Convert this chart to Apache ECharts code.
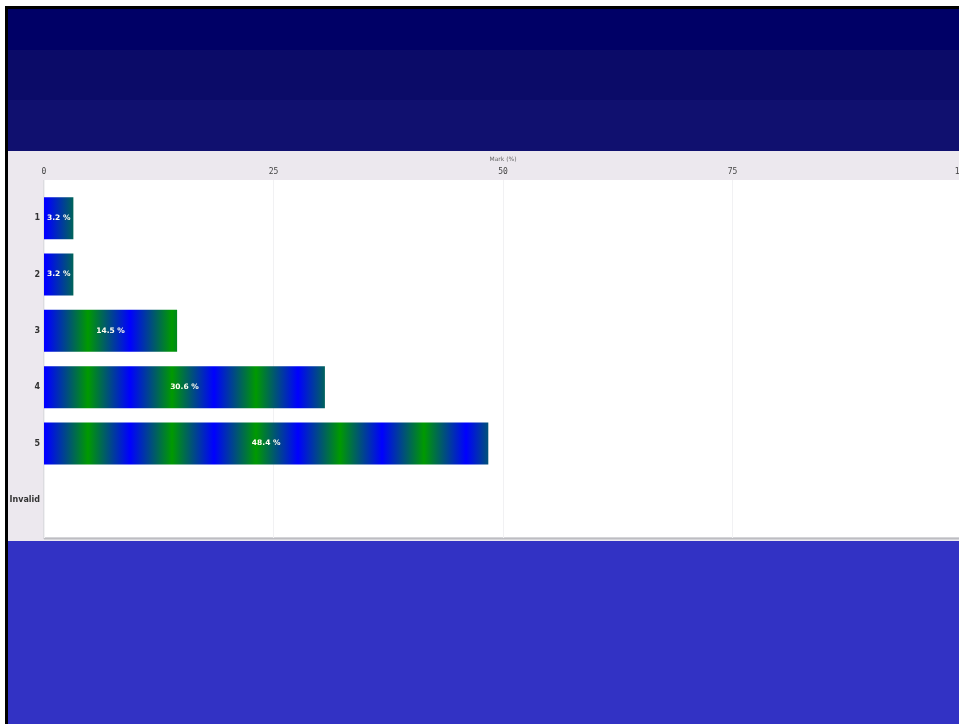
<!DOCTYPE html>
<html>
<head>
<meta charset="utf-8">
<script src="https://cdn.jsdelivr.net/npm/echarts@6/dist/echarts.min.js"></script>
<style>
html,body{margin:0;padding:0;background:#fff;}
#chart{width:959px;height:724px;}
</style>
</head>
<body>
<div id="chart"></div>
<script>
var categories = ['1', '2', '3', '4', '5', 'Invalid'];
var markValues = [3.2, 3.2, 14.5, 30.6, 48.4, 0];
var tickValues = [0, 25, 50, 75, 100];
var axisTitle = 'Mark (%)';

var chart = echarts.init(document.getElementById('chart'));

var PL = 44, PW = 918;
// striped blue/green gradient in page coordinates
var stops = [];
var period = 84, x = 46 - PL;
stops.push({offset: 0, color: '#0000ff'});
for (var k = 0; k < 12; k++) {
  var b = (x + k * period) / PW, g = (x + k * period + period / 2) / PW;
  if (b > 0 && b <= 1) stops.push({offset: b, color: '#0000ff'});
  if (g > 0 && g <= 1) stops.push({offset: g, color: '#009a00'});
}
var stripe = {type: 'linear', x: PL, y: 0, x2: PL + PW, y2: 0, global: true, colorStops: stops};

chart.setOption({
  backgroundColor: '#ffffff',
  animation: false,
  graphic: [
    {type: 'rect', z: -10, shape: {x: 5, y: 6, width: 960, height: 720}, style: {fill: '#000000'}},
    {type: 'rect', z: -9, shape: {x: 8, y: 9, width: 960, height: 41}, style: {fill: '#000066'}},
    {type: 'rect', z: -9, shape: {x: 8, y: 50, width: 960, height: 50}, style: {fill: '#0b0b68'}},
    {type: 'rect', z: -9, shape: {x: 8, y: 100, width: 960, height: 51}, style: {fill: '#10106f'}},
    {type: 'rect', z: -9, shape: {x: 8, y: 151, width: 960, height: 390}, style: {fill: '#ece8ee'}},
    {type: 'rect', z: -9, shape: {x: 8, y: 541, width: 960, height: 190}, style: {fill: '#3232c4'}},
    {type: 'rect', z: -8, shape: {x: PL, y: 180, width: PW, height: 358}, style: {fill: '#ffffff'}},
    {type: 'rect', z: -7, shape: {x: PL, y: 537, width: PW, height: 3}, style: {fill: '#d4d4d8'}},
    {type: 'rect', z: -7, shape: {x: PL - 1, y: 180, width: 1, height: 358}, style: {fill: '#dcdce0'}}
  ],
  grid: [
    {left: PL, top: 190, width: PW, height: 338, show: false, containLabel: false, outerBoundsMode: 'none'},
    {left: PL, top: 180, width: PW, height: 358, show: false, containLabel: false, outerBoundsMode: 'none'}
  ],
  xAxis: [
    {gridIndex: 0, type: 'value', min: 0, max: 100, show: false},
    {gridIndex: 1, type: 'value', min: 0, max: 100, interval: 25, position: 'top',
     name: axisTitle, nameLocation: 'middle', nameGap: 18,
     nameTextStyle: {fontSize: 6, color: '#666', fontFamily: 'DejaVu Sans'},
     axisLine: {show: true, lineStyle: {color: '#bdbdc2', width: 1}},
     axisTick: {show: false},
     axisLabel: {fontSize: 8, color: '#444', margin: 4, fontFamily: 'DejaVu Sans Mono',
       formatter: function (v) { return tickValues.indexOf(v) >= 0 ? String(v) : ''; }},
     splitLine: {show: true, lineStyle: {color: '#f1f1f3', width: 1}}}
  ],
  yAxis: [
    {gridIndex: 0, type: 'category', data: categories, inverse: true,
     axisLine: {show: false}, axisTick: {show: false},
     axisLabel: {fontSize: 8, color: '#333', fontWeight: 'bold', margin: 4, fontFamily: 'DejaVu Sans'}},
    {gridIndex: 1, type: 'value', show: false}
  ],
  series: [{
    type: 'bar',
    xAxisIndex: 0, yAxisIndex: 0,
    data: markValues,
    barWidth: 42,
    itemStyle: {color: stripe, borderWidth: 0},
    label: {show: true, position: 'inside', color: '#fffff0', fontSize: 7.5, fontWeight: 'bold',
      fontFamily: 'DejaVu Sans',
      formatter: function (p) { return p.value ? p.value + ' %' : ''; }}
  }]
});
</script>
</body>
</html>
